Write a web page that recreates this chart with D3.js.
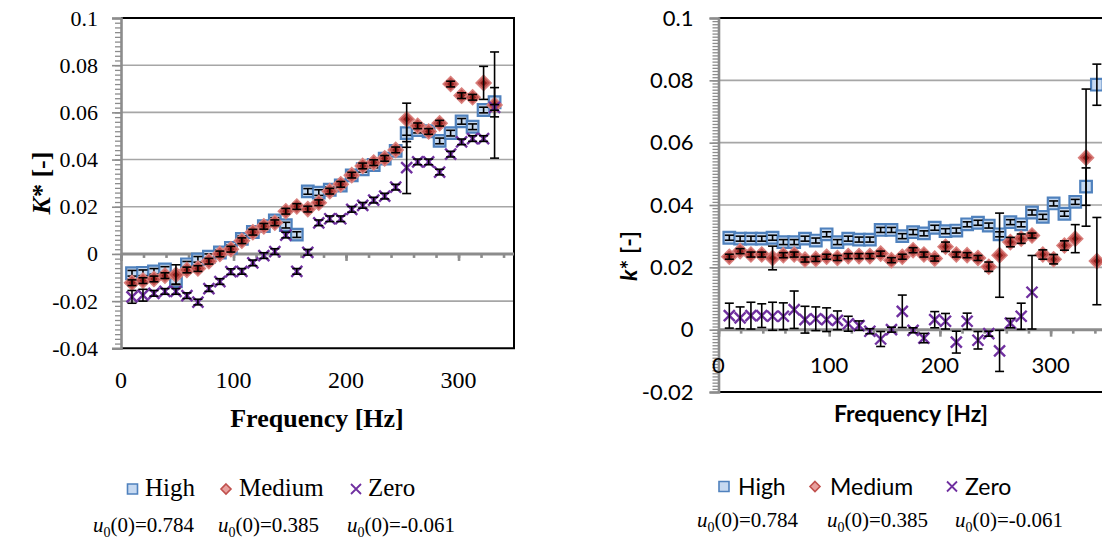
<!DOCTYPE html>
<html>
<head>
<meta charset="utf-8">
<script src="https://cdn.jsdelivr.net/npm/d3@7"></script>
<style>
  body { margin: 0; background: #fff; }
  svg { display: block; }
</style>
</head>
<body>
<svg id="chart" width="1102" height="544"></svg>
<script>
// frequency bins (Hz), one per point
var freqs = [9.77, 19.53, 29.30, 39.06, 48.83, 58.59, 68.36, 78.13, 87.89, 97.66,
             107.42, 117.19, 126.95, 136.72, 146.48, 156.25, 166.02, 175.78, 185.55, 195.31,
             205.08, 214.84, 224.61, 234.38, 244.14, 253.91, 263.67, 273.44, 283.20, 292.97,
             302.73, 312.50, 322.27, 332.03, 341.80];

// left chart: K*
var leftHigh = [-0.0082, -0.0080, -0.0074, -0.0066, -0.0116, -0.0044, -0.0023, -0.0012, 0.0006, 0.0026,
                0.0064, 0.0093, 0.0118, 0.0142, 0.0122, 0.0082, 0.0265, 0.0260, 0.0272, 0.0290,
                0.0333, 0.0359, 0.0377, 0.0404, 0.0437, 0.0512, 0.0525, 0.0520, 0.0479, 0.0512,
                0.0562, 0.0539, 0.0610, 0.0643];
var leftHighErr = [0.0012, 0.0012, 0.0012, 0.0012, 0.0012, 0.0012, 0.0012, 0.0012, 0.0012, 0.0012,
                   0.0012, 0.0012, 0.0012, 0.0012, 0.0012, 0.0012, 0.0012, 0.0012, 0.0012, 0.0012,
                   0.0012, 0.0012, 0.0012, 0.0012, 0.0012, 0.0060, 0.0012, 0.0012, 0.0012, 0.0012,
                   0.0012, 0.0012, 0.0012, 0.0062];
var leftMedium = [-0.0122, -0.0113, -0.0106, -0.0092, -0.0088, -0.0068, -0.0062, -0.0031, 0.0000, 0.0020,
                  0.0056, 0.0092, 0.0117, 0.0132, 0.0181, 0.0201, 0.0190, 0.0217, 0.0266, 0.0295,
                  0.0334, 0.0373, 0.0387, 0.0405, 0.0441, 0.0571, 0.0543, 0.0519, 0.0554, 0.0720,
                  0.0671, 0.0664, 0.0725, 0.0631];
var leftMediumErr = [0.0012, 0.0012, 0.0012, 0.0012, 0.0042, 0.0012, 0.0012, 0.0012, 0.0012, 0.0012,
                     0.0012, 0.0012, 0.0012, 0.0012, 0.0012, 0.0012, 0.0012, 0.0012, 0.0012, 0.0012,
                     0.0012, 0.0012, 0.0012, 0.0012, 0.0012, 0.0068, 0.0012, 0.0012, 0.0012, 0.0012,
                     0.0012, 0.0012, 0.0070, 0.0225];
var leftZero = [-0.0182, -0.0175, -0.0167, -0.0159, -0.0159, -0.0177, -0.0204, -0.0147, -0.0117, -0.0075,
                -0.0074, -0.0038, -0.0007, 0.0010, 0.0080, -0.0074, 0.0007, 0.0132, 0.0149, 0.0149,
                0.0189, 0.0206, 0.0228, 0.0245, 0.0283, 0.0366, 0.0390, 0.0390, 0.0347, 0.0423,
                0.0475, 0.0489, 0.0489, 0.0621];
var leftZeroErr = [0.0027, 0.0025, 0.0012, 0.0012, 0.0012, 0.0012, 0.0012, 0.0012, 0.0012, 0.0012,
                   0.0012, 0.0012, 0.0012, 0.0012, 0.0012, 0.0012, 0.0012, 0.0012, 0.0012, 0.0012,
                   0.0012, 0.0012, 0.0012, 0.0012, 0.0012, 0.0110, 0.0012, 0.0012, 0.0012, 0.0012,
                   0.0012, 0.0012, 0.0012, 0.0012];

// right chart: k*
var rightHigh = [0.0295, 0.0292, 0.0292, 0.0292, 0.0295, 0.0281, 0.0281, 0.0292, 0.0286, 0.0306,
                 0.0281, 0.0292, 0.0289, 0.0289, 0.0320, 0.0320, 0.0300, 0.0313, 0.0309, 0.0327,
                 0.0316, 0.0318, 0.0338, 0.0343, 0.0334, 0.0306, 0.0345, 0.0338, 0.0376, 0.0362,
                 0.0405, 0.0372, 0.0410, 0.0459, 0.0786];
var rightHighErr = [0.0008, 0.0008, 0.0008, 0.0008, 0.0008, 0.0008, 0.0008, 0.0008, 0.0008, 0.0008,
                    0.0008, 0.0008, 0.0008, 0.0008, 0.0008, 0.0008, 0.0008, 0.0008, 0.0008, 0.0008,
                    0.0008, 0.0008, 0.0008, 0.0008, 0.0008, 0.0008, 0.0008, 0.0008, 0.0008, 0.0008,
                    0.0008, 0.0008, 0.0008, 0.0060, 0.0066];
var rightMedium = [0.0234, 0.0252, 0.0241, 0.0241, 0.0230, 0.0239, 0.0241, 0.0225, 0.0227, 0.0234,
                   0.0230, 0.0236, 0.0236, 0.0236, 0.0244, 0.0223, 0.0234, 0.0255, 0.0241, 0.0228,
                   0.0266, 0.0241, 0.0239, 0.0230, 0.0202, 0.0239, 0.0281, 0.0292, 0.0302, 0.0241,
                   0.0226, 0.0270, 0.0292, 0.0552, 0.0220];
var rightMediumErr = [0.0008, 0.0008, 0.0008, 0.0008, 0.0038, 0.0008, 0.0008, 0.0008, 0.0008, 0.0008,
                      0.0008, 0.0008, 0.0008, 0.0008, 0.0008, 0.0008, 0.0008, 0.0008, 0.0008, 0.0008,
                      0.0015, 0.0008, 0.0008, 0.0008, 0.0015, 0.0135, 0.0015, 0.0015, 0.0008, 0.0015,
                      0.0015, 0.0015, 0.0045, 0.0220, 0.0140];
var rightZero = [0.0045, 0.0038, 0.0045, 0.0045, 0.0043, 0.0043, 0.0064, 0.0032, 0.0035, 0.0032,
                 0.0030, 0.0019, 0.0013, -0.0005, -0.0030, 0.0000, 0.0059, -0.0002, -0.0027, 0.0032,
                 0.0027, -0.0040, 0.0027, -0.0034, -0.0013, -0.0068, 0.0021, 0.0043, 0.0120];
var rightZeroErr = [0.0040, 0.0035, 0.0043, 0.0038, 0.0045, 0.0043, 0.0060, 0.0043, 0.0038, 0.0038,
                    0.0030, 0.0024, 0.0015, 0.0008, 0.0024, 0.0008, 0.0052, 0.0008, 0.0015, 0.0026,
                    0.0025, 0.0035, 0.0026, 0.0028, 0.0008, 0.0066, 0.0015, 0.0042, 0.0118];

var xTickLabels = [0, 100, 200, 300];
var leftYTicks = [-0.04, -0.02, 0, 0.02, 0.04, 0.06, 0.08, 0.1];
var rightYTicks = [-0.02, 0, 0.02, 0.04, 0.06, 0.08, 0.1];
var legendNames = ['High', 'Medium', 'Zero'];
var legendU0 = ['0.784', '0.385', '-0.061'];

var svg = d3.select('#chart');
var fmt = function(d){ return d === 0 ? '0' : String(+d.toFixed(2)); };

function markerPath(type, r){
    if (type === 'square') return 'M' + (-r) + ',' + (-r) + 'h' + 2*r + 'v' + 2*r + 'h' + (-2*r) + 'Z';
    if (type === 'diamond') return 'M0,' + (-r) + 'L' + r + ',0L0,' + r + 'L' + (-r) + ',0Z';
    return 'M' + (-r) + ',' + (-r) + 'L' + r + ',' + r + 'M' + r + ',' + (-r) + 'L' + (-r) + ',' + r;
}

function drawMarker(g, type){
    if (type === 'square') {
        g.append('path').attr('d', markerPath('square', 5.8))
            .attr('fill', '#c6d9f1').attr('stroke', '#4f81bd').attr('stroke-width', 2.2);
    } else if (type === 'diamond') {
        g.append('path').attr('d', markerPath('diamond', 7.5))
            .attr('fill', '#c0504d').attr('stroke', '#d9807d').attr('stroke-width', 1.5);
        g.append('path').attr('d', markerPath('diamond', 3.5)).attr('fill', '#8e1f1c');
    } else {
        g.append('path').attr('d', markerPath('x', 5.5))
            .attr('fill', 'none').attr('stroke', '#7030a0').attr('stroke-width', 2.4);
    }
}

function drawChart(cfg){
    var g = svg.append('g');
    var x = d3.scaleLinear().domain(cfg.xDomain).range([cfg.left, cfg.right]);
    var y = d3.scaleLinear().domain([cfg.yTicks[0], cfg.yTicks[cfg.yTicks.length - 1]])
              .range([cfg.bottom, cfg.top]);
    var plotRight = Math.min(cfg.right, 1102);

    // gridlines
    g.selectAll('.grid').data(cfg.yTicks.filter(function(d, i){
        return d !== 0 && i > 0 && i < cfg.yTicks.length - 1;
    })).enter().append('line')
        .attr('x1', cfg.left).attr('x2', plotRight)
        .attr('y1', function(d){ return y(d); }).attr('y2', function(d){ return y(d); })
        .attr('stroke', '#a6a6a6').attr('stroke-width', 1.6);

    // black frame on top, right and bottom
    g.append('path')
        .attr('d', 'M' + cfg.left + ',' + cfg.top + 'H' + cfg.right + 'V' + cfg.bottom + 'H' + cfg.left)
        .attr('fill', 'none').attr('stroke', '#000').attr('stroke-width', 2);

    // y axis: minor ticks, then labels
    var yMinor = d3.range(cfg.yTicks[0], cfg.yTicks[cfg.yTicks.length - 1] + 1e-9, cfg.yMinorStep);
    g.append('g').attr('transform', 'translate(' + cfg.left + ',0)')
        .call(d3.axisLeft(y).tickValues(yMinor).tickSize(6).tickFormat(''))
        .call(function(a){
            a.select('.domain').remove();
            a.selectAll('line').attr('stroke', '#8c8c8c').attr('stroke-width', 1.3);
        });
    g.append('g').attr('transform', 'translate(' + cfg.left + ',0)')
        .call(d3.axisLeft(y).tickValues(cfg.yTicks).tickSize(9).tickPadding(cfg.yPad).tickFormat(fmt))
        .call(function(a){
            a.select('.domain').attr('stroke', '#8c8c8c').attr('stroke-width', 2.6);
            a.selectAll('line').attr('stroke', '#8c8c8c').attr('stroke-width', 1.6);
            a.selectAll('text').attr('font-family', cfg.font).attr('font-size', cfg.yFont)
                .attr('fill', '#000');
        });

    // x axis along zero
    var xMinor = d3.range(0, cfg.xDomain[1], 20);
    g.append('g').attr('transform', 'translate(0,' + y(0) + ')')
        .call(d3.axisBottom(x).tickValues(xMinor).tickSize(4).tickFormat(''))
        .call(function(a){
            a.select('.domain').remove();
            a.selectAll('line').attr('stroke', '#8c8c8c').attr('stroke-width', 2.6);
        });
    g.append('g').attr('transform', 'translate(0,' + y(0) + ')')
        .call(d3.axisBottom(x).tickValues(xMinor.filter(function(d){ return d % 100 === 0; }))
              .tickSize(7).tickFormat(''))
        .call(function(a){
            a.select('.domain').remove();
            a.selectAll('line').attr('stroke', '#8c8c8c').attr('stroke-width', 2.6);
        });
    g.append('line').attr('x1', cfg.left).attr('x2', plotRight)
        .attr('y1', y(0)).attr('y2', y(0))
        .attr('stroke', '#8c8c8c').attr('stroke-width', 3);

    // x tick labels
    g.selectAll('.xlab').data(xTickLabels).enter().append('text')
        .attr('x', function(d){ return x(d); }).attr('y', cfg.xLabelY)
        .attr('text-anchor', 'middle')
        .attr('font-family', cfg.font).attr('font-size', cfg.xFont)
        .text(function(d){ return d; });

    // series
    cfg.series.forEach(function(s){
        var pts = s.values.map(function(v, i){ return {f: freqs[i], v: v, e: s.err[i]}; });
        var sg = g.append('g');
        pts.forEach(function(p){
            var m = sg.append('g').attr('transform', 'translate(' + x(p.f) + ',' + y(p.v) + ')');
            drawMarker(m, s.type);
        });
        var eb = sg.append('g').attr('stroke', '#000').attr('stroke-width', 1.6);
        pts.forEach(function(p){
            var px = x(p.f), y1 = y(p.v - p.e), y2 = y(p.v + p.e);
            eb.append('line').attr('x1', px).attr('x2', px).attr('y1', y1).attr('y2', y2);
            eb.append('line').attr('x1', px - 4.5).attr('x2', px + 4.5).attr('y1', y1).attr('y2', y1);
            eb.append('line').attr('x1', px - 4.5).attr('x2', px + 4.5).attr('y1', y2).attr('y2', y2);
        });
    });

    // axis titles
    g.append('text').attr('x', cfg.xTitle[0]).attr('y', cfg.xTitle[1])
        .attr('text-anchor', 'middle').attr('font-family', cfg.font)
        .attr('font-size', cfg.titleFont).attr('font-weight', 'bold')
        .text('Frequency [Hz]');
    var yt = g.append('text')
        .attr('transform', 'translate(' + cfg.yTitle[0] + ',' + cfg.yTitle[1] + ') rotate(-90)')
        .attr('text-anchor', 'middle').attr('font-family', cfg.font)
        .attr('font-size', cfg.titleFont).attr('font-weight', 'bold');
    yt.append('tspan').attr('font-style', 'italic').text(cfg.yName);
    yt.append('tspan').text('* [-]');

    // legend
    var types = ['square', 'diamond', 'x'];
    legendNames.forEach(function(name, i){
        var lg = g.append('g').attr('transform', 'translate(' + cfg.legendMarks[i] + ',' + cfg.legendY + ')');
        if (types[i] === 'square') {
            lg.append('path').attr('d', markerPath('square', 5))
                .attr('fill', '#c6d9f1').attr('stroke', '#4f81bd').attr('stroke-width', 1.6);
        } else if (types[i] === 'diamond') {
            lg.append('path').attr('d', markerPath('diamond', 5))
                .attr('fill', '#e8a09e').attr('stroke', '#c0504d').attr('stroke-width', 1.6);
        } else {
            lg.append('path').attr('d', markerPath('x', 5))
                .attr('fill', 'none').attr('stroke', '#7030a0').attr('stroke-width', 1.8);
        }
        g.append('text').attr('x', cfg.legendText[i]).attr('y', cfg.legendY + cfg.legendDy)
            .attr('font-family', cfg.font).attr('font-size', cfg.legendFont)
            .text(name);
        var u = g.append('text').attr('x', cfg.u0X[i]).attr('y', cfg.u0Y)
            .attr('font-family', 'Liberation Serif, Times New Roman, serif').attr('font-size', 21);
        u.append('tspan').attr('font-style', 'italic').text('u');
        u.append('tspan').attr('font-size', 14).attr('dy', 5).text('0');
        u.append('tspan').attr('dy', -5).text('(0)=' + legendU0[i]);
    });
}

drawChart({
    left: 121, right: 514, top: 18, bottom: 348.3,
    xDomain: [0, 349.3], yTicks: leftYTicks, yMinorStep: 0.002,
    font: 'Liberation Serif, Times New Roman, serif',
    yFont: 22, yPad: 14, xFont: 24, xLabelY: 388, titleFont: 26,
    xTitle: [317, 427], yTitle: [50, 183], yName: 'K',
    series: [
        {type: 'square', values: leftHigh, err: leftHighErr},
        {type: 'diamond', values: leftMedium, err: leftMediumErr},
        {type: 'x', values: leftZero, err: leftZeroErr}
    ],
    legendY: 489, legendDy: 7, legendFont: 25,
    legendMarks: [132.5, 226, 356], legendText: [145, 239, 368],
    u0X: [93, 218, 347], u0Y: 532
});

drawChart({
    left: 718.5, right: 1161.3, top: 18, bottom: 392,
    xDomain: [0, 400], yTicks: rightYTicks, yMinorStep: 0.001,
    font: 'Lato, Open Sans, sans-serif',
    yFont: 22, yPad: 16, xFont: 22, xLabelY: 373, titleFont: 23,
    xTitle: [911, 422], yTitle: [637, 256], yName: 'k',
    series: [
        {type: 'square', values: rightHigh, err: rightHighErr},
        {type: 'diamond', values: rightMedium, err: rightMediumErr},
        {type: 'x', values: rightZero, err: rightZeroErr}
    ],
    legendY: 486.5, legendDy: 8, legendFont: 23,
    legendMarks: [724, 815, 952], legendText: [738, 830, 965],
    u0X: [697, 827, 955], u0Y: 527
});
</script>
</body>
</html>
